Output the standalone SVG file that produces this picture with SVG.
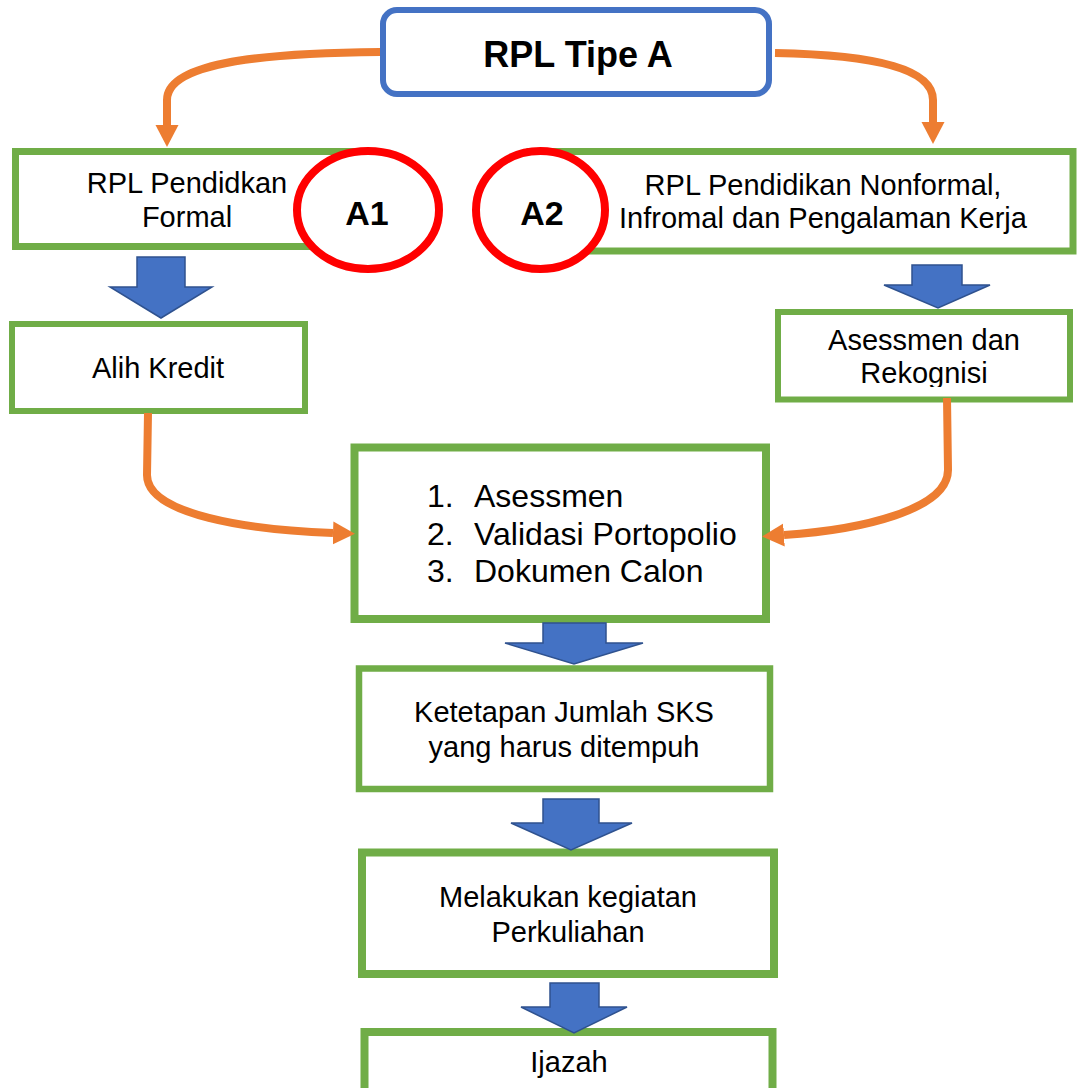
<svg xmlns="http://www.w3.org/2000/svg" width="1077" height="1088" viewBox="0 0 1077 1088">
<style>
text{font-family:"Liberation Sans",Arial,sans-serif;fill:#000;}
.t{font-size:29px;text-anchor:middle;}
.box{fill:#fff;stroke:#70AD47;}
.conn{fill:none;stroke:#ED7D31;stroke-width:8;marker-end:url(#oa);}
.blk{fill:#4472C4;stroke:#2F528F;stroke-width:1.5;stroke-linejoin:miter;}
.circ{fill:#fff;stroke:#FF0000;stroke-width:8;}
.b{font-weight:bold;text-anchor:middle;}
</style>
<defs>
<marker id="oa" viewBox="0 -12 22 24" markerWidth="22" markerHeight="24" refX="0" refY="0" orient="auto" markerUnits="userSpaceOnUse">
<path d="M0,-11.5 L22,0 L0,11.5 z" fill="#ED7D31"/>
</marker>
<clipPath id="clipRek"><rect x="778" y="312" width="292" height="75"/></clipPath>
</defs>
<rect width="1077" height="1088" fill="#fff"/>

<g id="top">
<rect x="383" y="10" width="386" height="84" rx="14" fill="#fff" stroke="#4472C4" stroke-width="6"/>
<text class="b" x="578" y="67" font-size="36">RPL Tipe A</text>
</g>

<g id="formal">
<rect class="box" x="15.5" y="151.5" width="345" height="95" stroke-width="7"/>
<text class="t" x="187" y="193">RPL Pendidkan</text>
<text class="t" x="187" y="227">Formal</text>
</g>

<g id="nonformal">
<rect class="box" x="530" y="151.5" width="543" height="99.5" stroke-width="7"/>
<text class="t" x="823" y="195">RPL Pendidikan Nonformal,</text>
<text class="t" x="823" y="228">Infromal dan Pengalaman Kerja</text>
</g>

<g id="a1">
<ellipse class="circ" cx="368" cy="210" rx="71" ry="59"/>
<text class="b" x="367" y="225" font-size="34">A1</text>
</g>

<g id="a2">
<ellipse class="circ" cx="540.5" cy="210" rx="64.5" ry="59"/>
<text class="b" x="542" y="225" font-size="34">A2</text>
</g>

<g id="alih">
<rect class="box" x="12" y="324" width="293" height="87" stroke-width="6"/>
<text class="t" x="158" y="378">Alih Kredit</text>
</g>

<g id="asessmen-rekognisi">
<rect class="box" x="778" y="312" width="292" height="87.5" stroke-width="6"/>
<text class="t" x="924" y="350">Asessmen dan</text>
<text class="t" x="924" y="383" clip-path="url(#clipRek)">Rekognisi</text>
</g>

<g id="list">
<rect class="box" x="354.5" y="447.5" width="411.5" height="171.5" stroke-width="8"/>
<g font-size="32">
<text x="427" y="507">1.</text><text x="474" y="507">Asessmen</text>
<text x="427" y="545">2.</text><text x="474" y="545">Validasi Portopolio</text>
<text x="427" y="582">3.</text><text x="474" y="582">Dokumen Calon</text>
</g>
</g>

<g id="ketetapan">
<rect class="box" x="359" y="668.5" width="411" height="120.5" stroke-width="6.5"/>
<text class="t" x="564" y="722">Ketetapan Jumlah SKS</text>
<text class="t" x="564" y="757">yang harus ditempuh</text>
</g>

<g id="kuliah">
<rect class="box" x="362" y="852.5" width="412" height="121.5" stroke-width="8"/>
<text class="t" x="568" y="907">Melakukan kegiatan</text>
<text class="t" x="568" y="942">Perkuliahan</text>
</g>

<g id="ijazah">
<rect class="box" x="364.5" y="1032" width="408" height="70" stroke-width="8"/>
<text class="t" x="569" y="1072">Ijazah</text>
</g>

<g id="connectors">
<path class="conn" d="M380,52 C250,53 167,65 167,100 L167,125"/>
<path class="conn" d="M775,53 C880,55 933,70 933,100 L933,122"/>
<path class="conn" d="M148,413 L147,475 C147,515 250,530 333,533"/>
<path class="conn" d="M947,398 L948,470 C948,510 860,530 784,535"/>
<polygon class="blk" points="137,257 185,257 185,287 212,287 161,318 110,287 137,287"/>
<polygon class="blk" points="912,265 962,265 962,285 990,285 938,308 884,285 912,285"/>
<polygon class="blk" points="543,623 606,623 606,643 643,643 574,664 505,643 543,643"/>
<polygon class="blk" points="543,799 599,799 599,823 632,823 571,850 511,823 543,823"/>
<polygon class="blk" points="550,983 599,983 599,1007 627,1007 574,1033 521,1007 550,1007"/>
</g>
</svg>
